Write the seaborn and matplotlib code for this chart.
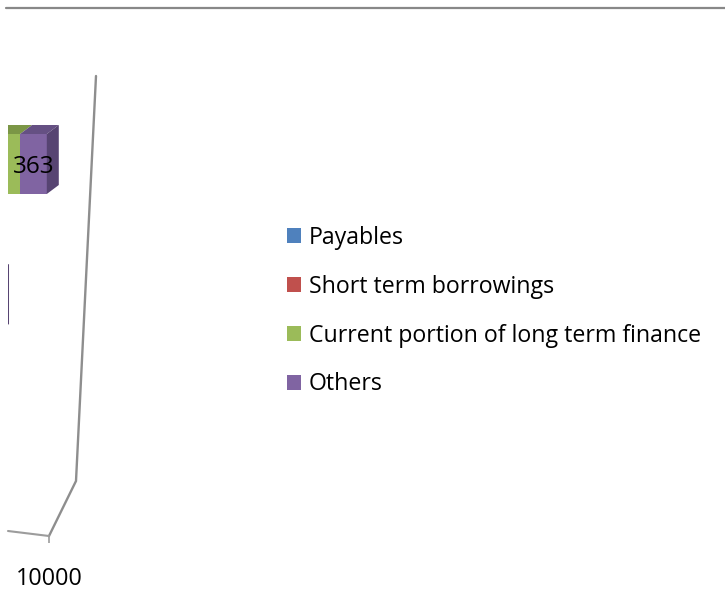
import matplotlib
matplotlib.use("Agg")
import matplotlib.pyplot as plt
import seaborn as sns
import pandas as pd
from matplotlib.patches import Polygon, Patch
from matplotlib.lines import Line2D

# ---- data (only the right-hand end of the chart is visible) ----
categories = ["2012", "2011", "2010"]          # top to bottom
series_names = ["Payables", "Short term borrowings",
                "Current portion of long term finance", "Others"]
payables = [5200, 5000, 4500]
short_term = [2900, 2700, 2400]
current_portion = [1507, 1250, 1000]
others = [363, 343, 300]
x_ticks = [10000]

front_colors = ["#4F81BD", "#C0504D", "#9BBB59", "#8064A2"]
top_colors = ["#3F6797", "#9A403E", "#7B9646", "#655083"]
side_colors = ["#385B87", "#883937", "#6C843E", "#574472"]

W, H = 725, 608
sns.set_theme(style="white")
plt.rcParams["font.family"] = ["Open Sans", "DejaVu Sans"]
plt.rcParams["text.color"] = "black"

fig = plt.figure(figsize=(W / 100, H / 100), dpi=100)

# axes box in pixels (from top-left of the image)
ax_left, ax_right, ax_top, ax_bottom = 8, 140, 8, 536
ax = fig.add_axes([ax_left / W, 1 - ax_bottom / H,
                   (ax_right - ax_left) / W, (ax_bottom - ax_top) / H])

units_per_px = 13.6
front_px = 49
pitch_px = 139
bar_center_px = 164
bar_h_px = 60
xlo = x_ticks[-1] - (front_px - ax_left) * units_per_px
xhi = x_ticks[-1] + (ax_right - front_px) * units_per_px
ytop_lim = (ax_top - bar_center_px) / pitch_px
ybot_lim = (ax_bottom - bar_center_px) / pitch_px
bar_w = bar_h_px / pitch_px

df = pd.DataFrame({
    "category": categories,
    series_names[0]: payables,
    series_names[1]: short_term,
    series_names[2]: current_portion,
    series_names[3]: others,
})
cum = df[series_names].cumsum(axis=1)
cum["category"] = df["category"]

# stacked bars: draw cumulative totals from the largest down
for i in reversed(range(len(series_names))):
    sns.barplot(data=cum, x=series_names[i], y="category", order=categories,
                orient="h", color=front_colors[i], saturation=1, width=bar_w,
                edgecolor="none", linewidth=0, errorbar=None, ax=ax)

ax.set_xlim(xlo, xhi)
ax.set_ylim(ybot_lim, ytop_lim)

# 3-D faces
dx = 12 * units_per_px
dy = 9 / pitch_px
for j, cat in enumerate(categories):
    yt = j - bar_w / 2
    yb = j + bar_w / 2
    prev = 0
    for i, name in enumerate(series_names):
        right = cum.loc[j, name]
        ax.add_patch(Polygon([(prev, yt), (right, yt), (right + dx, yt - dy),
                              (prev + dx, yt - dy)], closed=True,
                             facecolor=top_colors[i], edgecolor="none", zorder=3))
        val = df.loc[j, name]
        cx = (prev + right) / 2
        if xlo < cx < xhi:
            ax.text(cx, j + 0.025, f"{val}", ha="center", va="center", fontsize=17.5,
                    color="black", zorder=5)
        prev = right
    total = prev
    ax.add_patch(Polygon([(total, yt), (total + dx, yt - dy), (total + dx, yb - dy),
                          (total, yb)], closed=True, facecolor=side_colors[-1],
                         edgecolor="none", zorder=3))

# 3-D wall / floor outline (pixel geometry converted to data)
def px2data(px, py):
    return xlo + (px - ax_left) * units_per_px, (py - bar_center_px) / pitch_px

wall = [px2data(96, 76), px2data(76, 481), px2data(front_px, ax_bottom)]
ax.plot([p[0] for p in wall], [p[1] for p in wall], color="#8E8E8E", lw=1.7,
        solid_joinstyle="miter", zorder=1, clip_on=False)
floor = [px2data(front_px, ax_bottom), px2data(ax_left, 531)]
ax.plot([p[0] for p in floor], [p[1] for p in floor], color="#9C9C9C", lw=1.5,
        zorder=1, clip_on=False)

# axis styling
for s in ax.spines.values():
    s.set_visible(False)
ax.set_yticks([])
ax.set_xticks(x_ticks)
ax.set_xticklabels([f"{t}" for t in x_ticks])
ax.tick_params(axis="x", bottom=True, length=5, width=1.2, color="#9C9C9C",
               pad=17, labelsize=16.8, labelcolor="black")
ax.set_xlabel("")
ax.set_ylabel("")
ax.patch.set_visible(False)

# top border line
fig.add_artist(Line2D([6 / W, 1], [1 - 7.7 / H, 1 - 7.7 / H], color="#888888", lw=1.6))

# legend
handles = [Patch(facecolor=c, edgecolor="none") for c in front_colors]
fig.legend(handles, series_names, loc="upper left",
           bbox_to_anchor=(287 / W, 1 - 226 / H), frameon=False, fontsize=16.7,
           handlelength=0.6, handleheight=0.6, handletextpad=0.35,
           labelspacing=1.07, borderpad=0, borderaxespad=0, labelcolor="black")

fig.savefig("out.png", dpi=100)
